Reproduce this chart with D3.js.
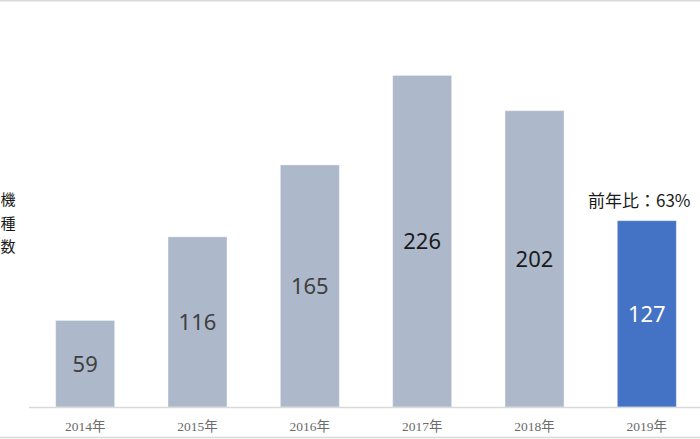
<!DOCTYPE html>
<html><head><meta charset="utf-8">
<script src="https://cdn.jsdelivr.net/npm/d3@7"></script>
<style>html,body{margin:0;padding:0;background:#fff;}svg{display:block;}</style>
</head><body>
<svg id="c" width="700" height="439"></svg>
<script>
const categories = ["2014年","2015年","2016年","2017年","2018年","2019年"];
const values = [59,116,165,226,202,127];
const barColors = ["#adb9ca","#adb9ca","#adb9ca","#adb9ca","#adb9ca","#4472c4"];
const labelColors = ["#404040","#404040","#404040","#1a1a1a","#1a1a1a","#ffffff"];
const yTitle = ["機","種","数"];
const note = "前年比：63%";

const svg = d3.select("#c");
const x = d3.scaleBand().domain(categories).range([29, 703]).paddingInner(0.475).paddingOuter(0.2375);
const y = d3.scaleLinear().domain([0, 250]).range([407, 407 - 250*1.467]);

// frame lines
svg.append("line").attr("x1",0).attr("x2",700).attr("y1",0.75).attr("y2",0.75).attr("stroke","#d9d9d9").attr("stroke-width",1.5);
svg.append("line").attr("x1",0).attr("x2",700).attr("y1",437.5).attr("y2",437.5).attr("stroke","#d9d9d9").attr("stroke-width",1.5);

svg.selectAll("rect.bar").data(values).join("rect")
  .attr("class","bar")
  .attr("x",(d,i)=>x(categories[i]))
  .attr("width",x.bandwidth())
  .attr("y",d=>y(d))
  .attr("height",d=>y(0)-y(d))
  .attr("fill",(d,i)=>barColors[i])
  .attr("stroke","rgba(255,255,255,0.35)").attr("stroke-width",1);

// baseline
svg.append("line").attr("x1",29).attr("x2",700).attr("y1",y(0)+0.5).attr("y2",y(0)+0.5).attr("stroke","#d9d9d9").attr("stroke-width",1.5);

svg.selectAll("text.val").data(values).join("text")
  .attr("class","val")
  .attr("x",(d,i)=>x(categories[i])+x.bandwidth()/2)
  .attr("y",d=>(y(d)+y(0))/2 + 8)
  .attr("text-anchor","middle")
  .attr("font-family","'Noto Sans', sans-serif")
  .attr("font-size",22)
  .attr("fill",(d,i)=>labelColors[i])
  .text(d=>d);

// x axis labels
const xAxis = d3.axisBottom(x).tickSize(0).tickPadding(0);
const gx = svg.append("g").attr("transform",`translate(0,${y(0)})`).call(xAxis);
gx.select(".domain").remove();
gx.selectAll("text")
  .attr("y",24).attr("dy",0)
  .attr("font-family","'Liberation Serif', 'Noto Sans CJK JP', serif")
  .attr("font-size",13.5)
  .attr("fill","#6b6b6b");

// y title
svg.selectAll("text.yt").data(yTitle).join("text")
  .attr("class","yt")
  .attr("x",8).attr("y",(d,i)=>205 + i*23.5)
  .attr("text-anchor","middle")
  .attr("font-family","'Noto Sans CJK JP', sans-serif")
  .attr("font-size",15)
  .attr("fill","#1a1a1a")
  .text(d=>d);

// note
svg.append("text")
  .attr("x",588).attr("y",207)
  .attr("font-family","'Noto Sans CJK JP', sans-serif")
  .attr("font-size",17)
  .attr("fill","#1a1a1a")
  .text(note);
</script>
</body></html>
